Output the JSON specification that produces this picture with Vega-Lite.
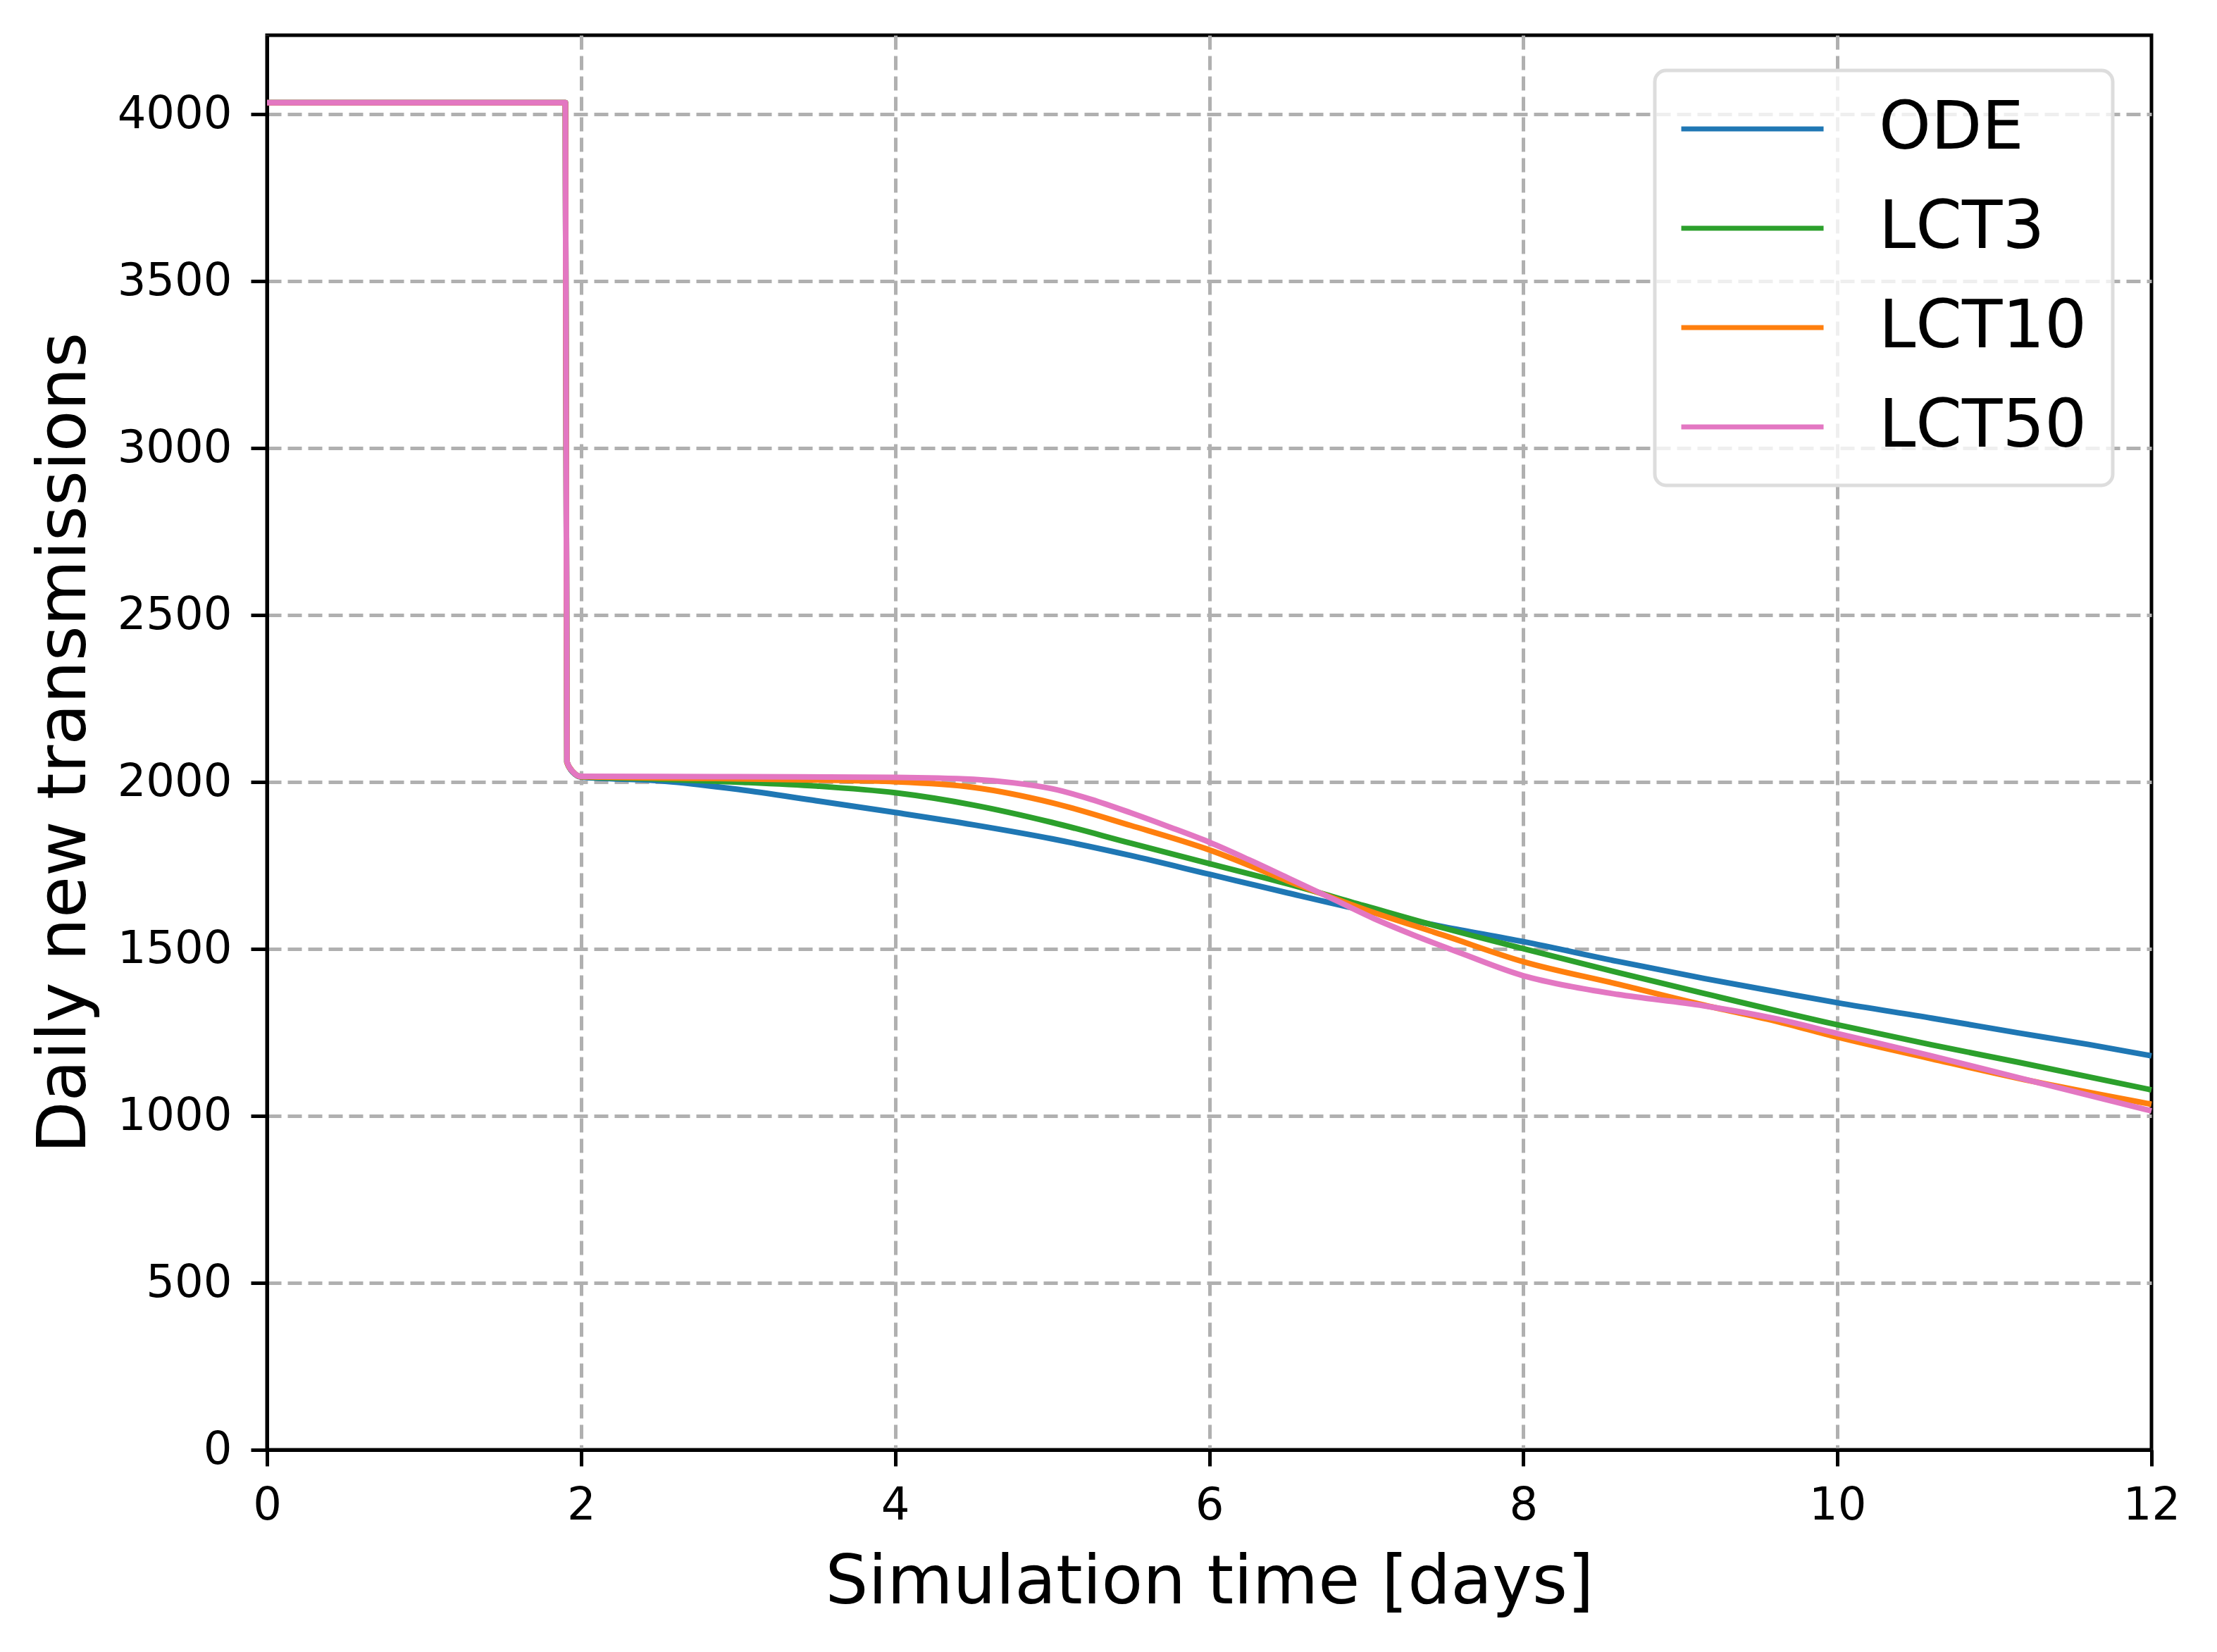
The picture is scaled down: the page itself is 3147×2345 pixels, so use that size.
{
  "$schema": "https://vega.github.io/schema/vega-lite/v6.json",
  "width": 2675,
  "height": 2008,
  "autosize": {"type": "none"},
  "padding": {"left": 379, "top": 50, "right": 93, "bottom": 287},
  "background": "white",
  "data": {
    "values": [
      {"model": "ODE", "t": 0, "n": 4035},
      {"model": "ODE", "t": 1.9, "n": 4035},
      {"model": "ODE", "t": 1.91, "n": 2060},
      {"model": "ODE", "t": 1.95, "n": 2028},
      {"model": "ODE", "t": 2.0, "n": 2015},
      {"model": "ODE", "t": 2.5, "n": 2004},
      {"model": "ODE", "t": 3.0, "n": 1978},
      {"model": "ODE", "t": 3.5, "n": 1944},
      {"model": "ODE", "t": 4.0, "n": 1909},
      {"model": "ODE", "t": 4.5, "n": 1872},
      {"model": "ODE", "t": 5.0, "n": 1830},
      {"model": "ODE", "t": 5.5, "n": 1780},
      {"model": "ODE", "t": 6.0, "n": 1724},
      {"model": "ODE", "t": 6.5, "n": 1668},
      {"model": "ODE", "t": 7.0, "n": 1614},
      {"model": "ODE", "t": 7.5, "n": 1566},
      {"model": "ODE", "t": 8.0, "n": 1522},
      {"model": "ODE", "t": 8.6, "n": 1463},
      {"model": "ODE", "t": 9.15, "n": 1412},
      {"model": "ODE", "t": 9.6, "n": 1373},
      {"model": "ODE", "t": 10.0, "n": 1339},
      {"model": "ODE", "t": 10.6, "n": 1293},
      {"model": "ODE", "t": 11.15, "n": 1249},
      {"model": "ODE", "t": 11.6, "n": 1214},
      {"model": "ODE", "t": 12.0, "n": 1180},
      {"model": "LCT3", "t": 0, "n": 4035},
      {"model": "LCT3", "t": 1.9, "n": 4035},
      {"model": "LCT3", "t": 1.91, "n": 2060},
      {"model": "LCT3", "t": 1.95, "n": 2030},
      {"model": "LCT3", "t": 2.0, "n": 2016},
      {"model": "LCT3", "t": 2.5, "n": 2009},
      {"model": "LCT3", "t": 3.0, "n": 2000},
      {"model": "LCT3", "t": 3.5, "n": 1988},
      {"model": "LCT3", "t": 4.0, "n": 1968},
      {"model": "LCT3", "t": 4.5, "n": 1931},
      {"model": "LCT3", "t": 5.0, "n": 1879},
      {"model": "LCT3", "t": 5.5, "n": 1817},
      {"model": "LCT3", "t": 6.0, "n": 1756},
      {"model": "LCT3", "t": 6.5, "n": 1695},
      {"model": "LCT3", "t": 7.0, "n": 1628},
      {"model": "LCT3", "t": 7.5, "n": 1562},
      {"model": "LCT3", "t": 8.0, "n": 1501},
      {"model": "LCT3", "t": 8.6, "n": 1430},
      {"model": "LCT3", "t": 9.15, "n": 1367},
      {"model": "LCT3", "t": 10.0, "n": 1273},
      {"model": "LCT3", "t": 10.6, "n": 1213},
      {"model": "LCT3", "t": 11.15, "n": 1161},
      {"model": "LCT3", "t": 12.0, "n": 1078},
      {"model": "LCT10", "t": 0, "n": 4035},
      {"model": "LCT10", "t": 1.9, "n": 4035},
      {"model": "LCT10", "t": 1.91, "n": 2060},
      {"model": "LCT10", "t": 1.95, "n": 2030},
      {"model": "LCT10", "t": 2.0, "n": 2016},
      {"model": "LCT10", "t": 3.0, "n": 2010},
      {"model": "LCT10", "t": 3.5, "n": 2006},
      {"model": "LCT10", "t": 4.0, "n": 2001},
      {"model": "LCT10", "t": 4.5, "n": 1984},
      {"model": "LCT10", "t": 5.0, "n": 1938},
      {"model": "LCT10", "t": 5.5, "n": 1870},
      {"model": "LCT10", "t": 6.0, "n": 1797},
      {"model": "LCT10", "t": 6.5, "n": 1704},
      {"model": "LCT10", "t": 7.0, "n": 1617},
      {"model": "LCT10", "t": 7.5, "n": 1540},
      {"model": "LCT10", "t": 8.0, "n": 1462},
      {"model": "LCT10", "t": 8.6, "n": 1395},
      {"model": "LCT10", "t": 9.15, "n": 1332},
      {"model": "LCT10", "t": 9.6, "n": 1285},
      {"model": "LCT10", "t": 10.0, "n": 1236},
      {"model": "LCT10", "t": 10.6, "n": 1171},
      {"model": "LCT10", "t": 11.15, "n": 1113},
      {"model": "LCT10", "t": 12.0, "n": 1035},
      {"model": "LCT50", "t": 0, "n": 4035},
      {"model": "LCT50", "t": 1.9, "n": 4035},
      {"model": "LCT50", "t": 1.91, "n": 2062},
      {"model": "LCT50", "t": 1.95, "n": 2030},
      {"model": "LCT50", "t": 2.0, "n": 2017},
      {"model": "LCT50", "t": 3.0, "n": 2016},
      {"model": "LCT50", "t": 4.0, "n": 2014},
      {"model": "LCT50", "t": 4.5, "n": 2008},
      {"model": "LCT50", "t": 4.75, "n": 1998},
      {"model": "LCT50", "t": 5.0, "n": 1980},
      {"model": "LCT50", "t": 5.25, "n": 1948},
      {"model": "LCT50", "t": 5.5, "n": 1908},
      {"model": "LCT50", "t": 5.75, "n": 1865},
      {"model": "LCT50", "t": 6.0, "n": 1820},
      {"model": "LCT50", "t": 6.25, "n": 1768},
      {"model": "LCT50", "t": 6.5, "n": 1713},
      {"model": "LCT50", "t": 6.8, "n": 1647},
      {"model": "LCT50", "t": 7.05, "n": 1591},
      {"model": "LCT50", "t": 7.3, "n": 1542},
      {"model": "LCT50", "t": 7.6, "n": 1488},
      {"model": "LCT50", "t": 8.0, "n": 1420},
      {"model": "LCT50", "t": 8.3, "n": 1388},
      {"model": "LCT50", "t": 8.6, "n": 1364},
      {"model": "LCT50", "t": 9.15, "n": 1330},
      {"model": "LCT50", "t": 9.6, "n": 1292},
      {"model": "LCT50", "t": 10.0, "n": 1247},
      {"model": "LCT50", "t": 10.6, "n": 1180},
      {"model": "LCT50", "t": 11.15, "n": 1115},
      {"model": "LCT50", "t": 12.0, "n": 1015}
    ]
  },
  "mark": {"type": "line", "strokeWidth": 8, "interpolate": "monotone", "strokeJoin": "round"},
  "encoding": {
    "x": {
      "field": "t",
      "type": "quantitative",
      "title": "Simulation time [days]",
      "scale": {"domain": [0, 12], "nice": false},
      "axis": {
        "values": [0, 2, 4, 6, 8, 10, 12],
        "format": "d",
        "labelFlush": false,
        "gridOpacity": {"condition": {"test": "datum.value >= 12", "value": 0}, "value": 1}
      }
    },
    "y": {
      "field": "n",
      "type": "quantitative",
      "title": "Daily new transmissions",
      "scale": {"domain": [0, 4237], "nice": false},
      "axis": {"values": [0, 500, 1000, 1500, 2000, 2500, 3000, 3500, 4000], "format": "d", "labelFlush": false}
    },
    "color": {
      "field": "model",
      "type": "nominal",
      "scale": {
        "domain": ["ODE", "LCT3", "LCT10", "LCT50"],
        "range": ["#1f77b4", "#2ca02c", "#ff7f0e", "#e377c2"]
      },
      "legend": {
        "title": null,
        "orient": "none",
        "legendX": 1970,
        "legendY": 50,
        "symbolType": "M-1.8,0L6.2,0",
        "symbolSize": 2550,
        "symbolStrokeWidth": 7,
        "labelOffset": 188,
        "labelFontSize": 94,
        "labelFont": "DejaVu Sans",
        "labelColor": "black",
        "labelLimit": 1000,
        "rowPadding": 47,
        "padding": 36,
        "fillColor": "rgba(255,255,255,0.8)",
        "strokeColor": "#dddddd",
        "cornerRadius": 16
      }
    }
  },
  "config": {
    "font": "DejaVu Sans",
    "view": {"stroke": "black", "strokeWidth": 5},
    "legend": {"strokeWidth": 5},
    "axis": {
      "domainColor": "black",
      "domainWidth": 5,
      "tickColor": "black",
      "tickWidth": 5,
      "tickSize": 23,
      "labelFont": "DejaVu Sans",
      "labelFontSize": 64,
      "labelColor": "black",
      "titleFont": "DejaVu Sans",
      "titleFontSize": 96,
      "titleFontWeight": "normal",
      "titleColor": "black",
      "grid": true,
      "gridColor": "#b0b0b0",
      "gridWidth": 5,
      "gridDash": [20, 9]
    },
    "axisX": {"labelPadding": 24, "titlePadding": 30},
    "axisY": {"labelPadding": 27, "titlePadding": 39}
  }
}
